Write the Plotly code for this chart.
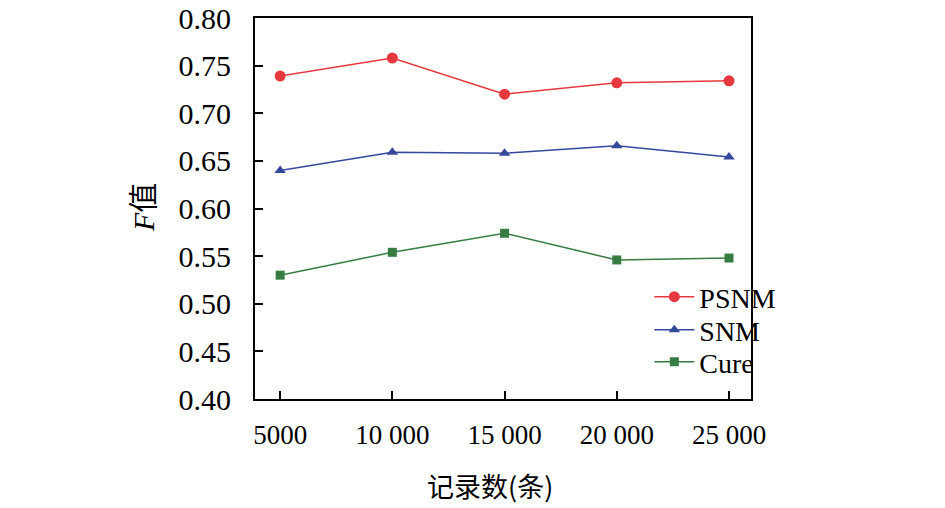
import plotly.graph_objects as go

records = [5000, 10000, 15000, 20000, 25000]
record_labels = ["5000", "10 000", "15 000", "20 000", "25 000"]
psnm = [0.739, 0.758, 0.720, 0.732, 0.734]
snm = [0.640, 0.659, 0.658, 0.666, 0.654]
cure = [0.530, 0.554, 0.574, 0.546, 0.548]

y_ticks = [0.40, 0.45, 0.50, 0.55, 0.60, 0.65, 0.70, 0.75, 0.80]

SERIF = "Liberation Serif, Times New Roman, serif"
CJK = "Noto Sans CJK SC"

# page body has an 8px margin, so the figure is laid out 8px up/left
OFF = 8
PLOT_L, PLOT_R, PLOT_T, PLOT_B = 255, 751, 18, 399
W, H = 945, 508

series = [
    ("PSNM", psnm, "#e5383f", "circle", 11, "legend", 297),
    ("SNM", snm, "#34499c", "triangle-up", 10, "legend2", 330),
    ("Cure", cure, "#367c43", "square", 9, "legend3", 362),
]

fig = go.Figure()
for name, vals, color, symbol, size, leg, _ in series:
    fig.add_trace(
        go.Scatter(
            x=records,
            y=vals,
            name=name,
            legend=leg,
            mode="lines+markers",
            line=dict(color=color, width=1.5),
            marker=dict(symbol=symbol, size=size, color=color),
        )
    )

axis_common = dict(
    showline=True,
    linecolor="black",
    linewidth=2,
    mirror=True,
    ticks="inside",
    ticklen=8,
    tickwidth=2,
    tickcolor="black",
    showgrid=False,
    zeroline=False,
    automargin=False,
    ticklabeloverflow="allow",
)

fig.update_xaxes(
    range=[3880, 25980],
    tickvals=records,
    ticktext=record_labels,
    ticklabelstandoff=11,
    tickfont=dict(family=SERIF, size=27, color="black"),
    **axis_common,
)
fig.update_yaxes(
    range=[0.40, 0.80],
    tickvals=y_ticks,
    ticktext=[f"{v:.2f}" for v in y_ticks],
    ticklabelstandoff=16,
    tickfont=dict(family=SERIF, size=30, color="black"),
    **axis_common,
)

pw = PLOT_R - PLOT_L
ph = PLOT_B - PLOT_T

fig.add_annotation(
    text="记录数(条)",
    xref="paper", yref="paper",
    x=(490 - PLOT_L) / pw, y=-(485 - PLOT_B) / ph,
    xanchor="center", yanchor="middle",
    showarrow=False,
    font=dict(family=CJK, size=27, color="black"),
)
fig.add_annotation(
    text="<i>F</i>值",
    xref="paper", yref="paper",
    x=-(PLOT_L - 143) / pw, y=(PLOT_B - 208) / ph,
    xanchor="center", yanchor="middle",
    textangle=-90,
    showarrow=False,
    font=dict(family=SERIF + ", " + CJK, size=30, color="black"),
)

legends = {}
for name, _, _, _, _, leg, row_y in series:
    legends[leg] = dict(
        x=0.795,
        y=(PLOT_B - row_y) / ph,
        xanchor="left",
        yanchor="middle",
        bgcolor="rgba(0,0,0,0)",
        font=dict(family=SERIF, size=28, color="black"),
        itemwidth=40,
    )

fig.update_layout(
    width=W,
    height=H,
    margin=dict(l=PLOT_L - OFF, r=W - (PLOT_R - OFF), t=PLOT_T - OFF, b=H - (PLOT_B - OFF)),
    paper_bgcolor="white",
    plot_bgcolor="white",
    showlegend=True,
    **legends,
)

fig.write_html("out.html")
